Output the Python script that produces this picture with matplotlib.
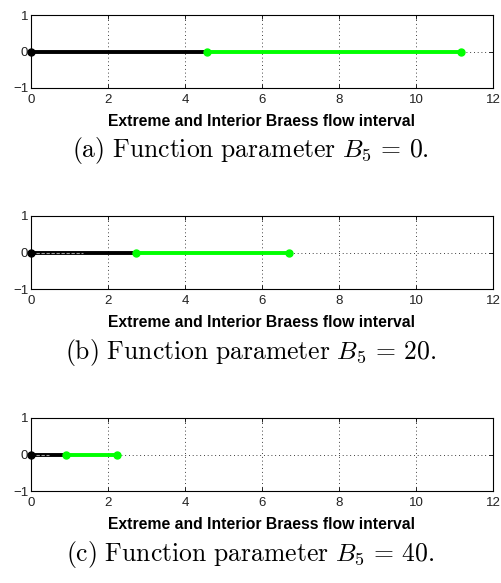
import matplotlib
matplotlib.use("Agg")
import matplotlib.pyplot as plt

plt.rcParams['font.family'] = ['Liberation Sans', 'DejaVu Sans']
plt.rcParams['mathtext.fontset'] = 'cm'

# interval end points for each value of the function parameter B5
b5_values = [0, 20, 40]
panel_tags = ['a', 'b', 'c']
extreme_end = [4.57, 2.73, 0.90]
interior_end = [11.17, 6.70, 2.24]
inner_dash_end = [0.0, 1.35, 0.47]
xticks = [0, 2, 4, 6, 8, 10, 12]
yticks = [-1, 0, 1]

W, H = 501, 583
fig = plt.figure(figsize=(W / 100, H / 100), dpi=100)

tops = [15, 216, 418]
for i in range(3):
    top = tops[i]
    ax = fig.add_axes([31 / W, 1 - (top + 73) / H, 462 / W, 73 / H])
    ax.set_xlim(0, 12)
    ax.set_ylim(-1, 1)
    ax.set_xticks(xticks)
    ax.set_yticks(yticks)
    ax.grid(True, color='black', linestyle=(0, (1, 3.5)), linewidth=0.6)
    ax.tick_params(direction='in', length=3, width=0.6, labelsize=9.5,
                   labelcolor='#222222', top=True, right=True)
    ax.tick_params(axis='x', pad=4)
    ax.tick_params(axis='y', pad=2)
    for s in ax.spines.values():
        s.set_linewidth(0.8)

    ax.plot([0, extreme_end[i]], [0, 0], color='black', linewidth=2.8,
            solid_capstyle='butt', zorder=3)
    ax.plot([0, inner_dash_end[i]], [0, 0], color='#a0a0a0',
            linestyle=(0, (3, 1.5)), linewidth=0.8, zorder=4)
    ax.plot([extreme_end[i], interior_end[i]], [0, 0], color='#00ff00',
            linewidth=2.8, solid_capstyle='butt', zorder=3,
            marker='o', markersize=5)
    ax.plot([0], [0], color='black', marker='o', markersize=5,
            clip_on=False, zorder=5)

    ax.set_xlabel('Extreme and Interior Braess flow interval',
                  fontsize=11.3, fontweight='bold', labelpad=6)

    cap_y = 1 - (top + 136) / H
    fig.text(0.5, cap_y,
             r'$\mathrm{(%s)\ Function\ parameter\ }B_5\,=\,%d.$'
             % (panel_tags[i], b5_values[i]),
             ha='center', va='center', fontsize=18.5)

fig.savefig('out.png', dpi=100)
